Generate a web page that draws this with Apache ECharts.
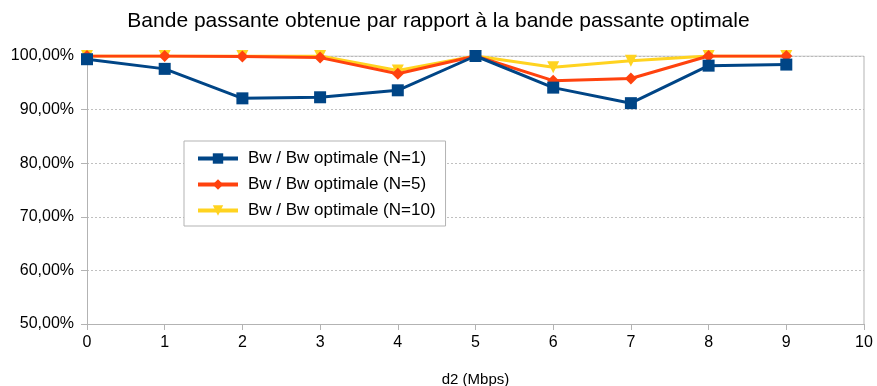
<!DOCTYPE html>
<html>
<head>
<meta charset="utf-8">
<script src="https://cdn.jsdelivr.net/npm/echarts@6/dist/echarts.min.js"></script>
<style>
  html, body { margin: 0; padding: 0; background: #fff; }
  #chart { width: 877px; height: 386px; }
</style>
</head>
<body>
<div id="chart"></div>
<script>
// d2 values (Mbps) on the horizontal axis
const d2 = [0, 1, 2, 3, 4, 5, 6, 7, 8, 9];

// Ratio of obtained bandwidth to optimal bandwidth, per number of flows N
const ratioN1  = [0.994, 0.976, 0.921, 0.923, 0.936, 1.000, 0.941, 0.912, 0.982, 0.984];
const ratioN5  = [1.000, 1.000, 0.999, 0.997, 0.967, 1.000, 0.954, 0.958, 1.000, 1.000];
const ratioN10 = [1.000, 1.000, 1.000, 1.000, 0.973, 1.000, 0.979, 0.991, 1.000, 1.000];

const seriesNames = [
  'Bw / Bw optimale (N=1)',
  'Bw / Bw optimale (N=5)',
  'Bw / Bw optimale (N=10)'
];

const FONT = '"Liberation Sans", Arial, sans-serif';

function pairs(values) {
  return d2.map((x, i) => [x, values[i]]);
}

function pct(v) {
  return (v * 100).toFixed(2).replace('.', ',') + '%';
}

const chart = echarts.init(document.getElementById('chart'), null, { renderer: 'canvas' });

chart.setOption({
  animation: false,
  backgroundColor: '#ffffff',
  title: {
    text: 'Bande passante obtenue par rapport à la bande passante optimale',
    left: 'center',
    top: 6,
    textStyle: { fontFamily: FONT, fontSize: 21, fontWeight: 'normal', color: '#000' }
  },
  legend: {
    orient: 'vertical',
    left: 184,
    top: 141,
    padding: [9, 10, 7, 12],
    itemGap: 9,
    itemWidth: 40,
    itemHeight: 13,
    borderColor: '#b3b3b3',
    borderWidth: 1,
    backgroundColor: '#fff',
    lineStyle: { width: 4 },
    textStyle: { fontFamily: FONT, fontSize: 17, color: '#000', padding: [0, 0, 0, 5] },
    data: seriesNames
  },
  grid: { left: 87, right: 13, top: 56, bottom: 62, containLabel: false, outerBoundsMode: 'none' },
  xAxis: {
    type: 'value',
    min: 0,
    max: 10,
    interval: 1,
    name: 'd2 (Mbps)',
    nameLocation: 'middle',
    nameGap: 48,
    nameTextStyle: { fontFamily: FONT, fontSize: 15, color: '#000' },
    axisLine: { show: true, lineStyle: { color: '#b3b3b3', width: 1 } },
    axisTick: { show: true, length: 6, lineStyle: { color: '#b3b3b3' } },
    axisLabel: { fontFamily: FONT, fontSize: 16, color: '#000', margin: 11 },
    splitLine: { show: false }
  },
  yAxis: {
    type: 'value',
    min: 0.5,
    max: 1.0,
    interval: 0.1,
    axisLine: { show: true, lineStyle: { color: '#b3b3b3', width: 1 } },
    axisTick: { show: true, length: 6, lineStyle: { color: '#b3b3b3' } },
    axisLabel: { fontFamily: FONT, fontSize: 16, color: '#000', margin: 13, formatter: pct },
    splitLine: { show: true, lineStyle: { color: '#c0c0c0', type: [2, 2], width: 1 } }
  },
  series: [
    {
      name: seriesNames[2],
      type: 'line',
      data: pairs(ratioN10),
      z: 3,
      color: '#ffd320',
      lineStyle: { width: 3, color: '#ffd320' },
      symbol: 'triangle',
      symbolRotate: 180,
      symbolSize: 12,
      itemStyle: { color: '#ffd320' }
    },
    {
      name: seriesNames[1],
      type: 'line',
      data: pairs(ratioN5),
      z: 4,
      color: '#ff420e',
      lineStyle: { width: 3, color: '#ff420e' },
      symbol: 'diamond',
      symbolSize: 12,
      itemStyle: { color: '#ff420e' }
    },
    {
      name: seriesNames[0],
      type: 'line',
      data: pairs(ratioN1),
      z: 5,
      color: '#004586',
      lineStyle: { width: 3, color: '#004586' },
      symbol: 'rect',
      symbolSize: 12,
      itemStyle: { color: '#004586' }
    },
    {
      // frame along the top and right edges of the plot area
      type: 'line',
      data: [[0, 1.0], [10, 1.0], [10, 0.5]],
      symbol: 'none',
      silent: true,
      z: 2,
      lineStyle: { color: '#b3b3b3', width: 1 },
      tooltip: { show: false }
    }
  ]
});
</script>
</body>
</html>
